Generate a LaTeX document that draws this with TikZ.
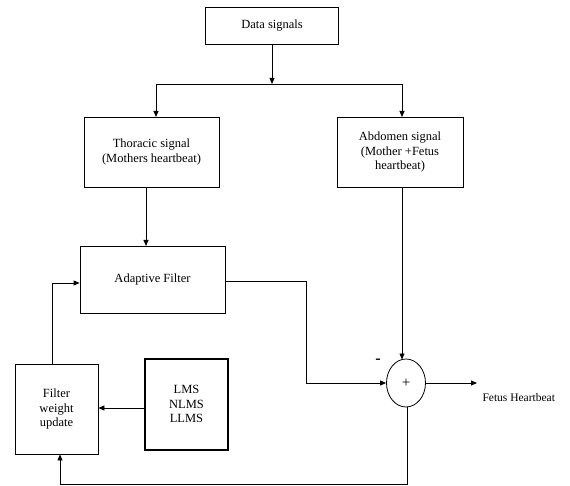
\documentclass[tikz,border=0pt]{standalone}
\usepackage{fontspec}
\setmainfont{Liberation Serif}
\usetikzlibrary{arrows.meta,shapes.geometric}
\begin{document}
\begin{tikzpicture}[x=1pt,y=-1pt,
  box/.style={draw,line width=0.8pt,align=center,font=\fontsize{12.5}{14.5}\selectfont,inner sep=0pt},
  conn/.style={line width=0.8pt,-{Triangle[length=6pt,width=5pt]}}]
\useasboundingbox (0,0) rectangle (570,486);
\node[box,minimum width=133pt,minimum height=37pt] (data) at (272,25.5) {Data signals};
\node[box,minimum width=135pt,minimum height=70pt] (thor) at (151.5,152) {Thoracic signal\\(Mothers heartbeat)};
\node[box,minimum width=126pt,minimum height=70pt] (abd) at (400,152) {Abdomen signal\\(Mother +Fetus\\heartbeat)};
\node[box,minimum width=145pt,minimum height=67pt] (af) at (152.5,279.5) {Adaptive Filter};
\node[box,minimum width=83pt,minimum height=90pt] (fwu) at (56.5,409) {Filter\\weight\\update};
\node[box,line width=2pt,minimum width=83pt,minimum height=91pt] (lms) at (186.5,404) {LMS\\NLMS\\LLMS};
\node[draw,line width=0.8pt,ellipse,minimum width=39pt,minimum height=48pt,inner sep=0pt,font=\fontsize{15}{15}\selectfont] (sum) at (406,383) {+};
\node[font=\fontsize{11.5}{13}\selectfont,anchor=west] (out) at (479,398) {Fetus Heartbeat};
\node[font=\bfseries\fontsize{16}{16}\selectfont] (minus) at (378,361) {-};
\coordinate (split) at (272,84);
\coordinate (outend) at (477,383);
\coordinate (bot) at (407,484);
\draw[conn] (data.south) -- (split);
\draw[conn] (split) -- (156,84) -- (156,117);
\draw[conn] (split) -- (402,84) -- (402,117);
\draw[conn] (thor.south -| 146,0) -- (146,246);
\draw[conn] (abd.south -| 402,0) -- (402,359.5);
\draw[conn] (af.east |- 0,281) -- (306,281) -- (306,383) -- (sum.west);
\draw[conn] (sum.east) -- (outend);
\draw[conn] (lms.west |- 0,408) -- (fwu.east |- 0,408);
\draw[conn] (fwu.north -| 52,0) -- (52,283) -- (af.west |- 0,283);
\draw[conn] (sum.south -| 407,0) -- (bot) -- (60,484) -- (fwu.south -| 60,0);
\end{tikzpicture}
\end{document}
